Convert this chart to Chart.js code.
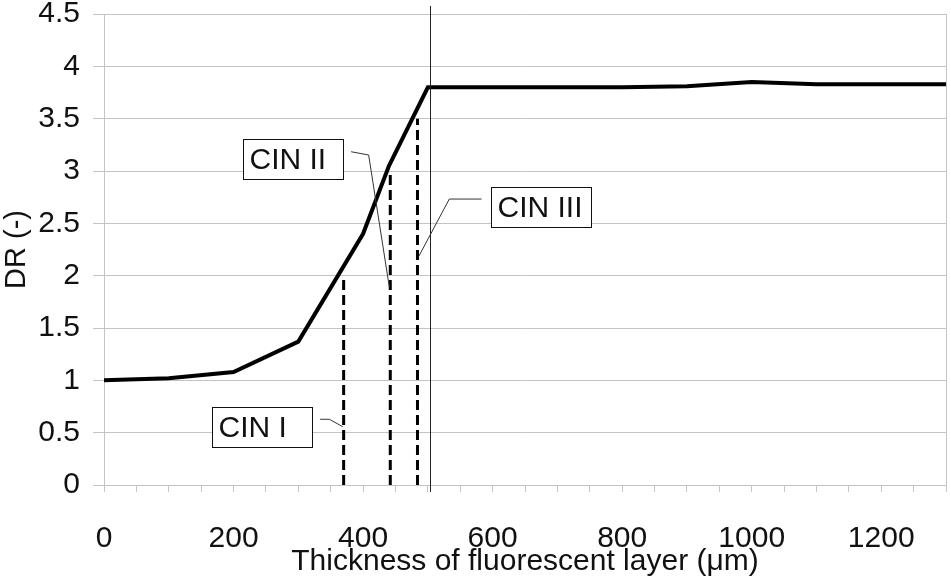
<!DOCTYPE html>
<html>
<head>
<meta charset="utf-8">
<script src="https://cdn.jsdelivr.net/npm/chart.js@4.4.1/dist/chart.umd.min.js"></script>
<style>
    html, body { margin: 0; padding: 0; background: #ffffff; }
    #wrap { width: 951px; height: 583px; position: relative; }
</style>
</head>
<body>
<div id="wrap"><canvas id="dr-chart"></canvas></div>
<script>
// thickness of fluorescent layer (um) and DR values
const thickness = [0, 100, 200, 300, 400, 440, 500, 600, 700, 800, 900, 1000, 1100, 1200, 1300];
const drValues = [1.0, 1.02, 1.08, 1.37, 2.4, 3.05, 3.8, 3.8, 3.8, 3.8, 3.81, 3.85, 3.83, 3.83, 3.83];

// CIN stage thresholds (dashed verticals): x position and height
const cinLabels = ['CIN I', 'CIN II', 'CIN III'];
const cinThickness = [370, 442, 484];
const cinTop = [1.97, 3.01, 3.5];

// solid vertical marker
const markerThickness = 504;

const xTickLabels = [0, 200, 400, 600, 800, 1000, 1200];
const yTickLabels = [0, 0.5, 1, 1.5, 2, 2.5, 3, 3.5, 4, 4.5];

// label boxes + leader lines, in data units
const cinCallouts = [
    { box: [166.5, 0.748], leader: [[333.7, 0.628], [348, 0.628], [368.5, 0.557]] },
    { box: [214, 3.306], leader: [[381.5, 3.184], [408.6, 3.153], [440.5, 1.892]] },
    { box: [597, 2.85], leader: [[582.9, 2.732], [533.1, 2.732], [485.7, 2.181]] }
];

const gridGray = '#c4c4c4';
const fontFamily = '"Liberation Sans", Arial, sans-serif';

const datasets = [{
    label: 'DR',
    data: thickness.map((t, i) => ({ x: t, y: drValues[i] })),
    borderColor: '#000000',
    borderWidth: 4,
    pointRadius: 0,
    tension: 0,
    order: 0
}];

cinThickness.forEach((t, i) => {
    datasets.push({
        label: cinLabels[i],
        data: [{ x: t, y: 0 }, { x: t, y: cinTop[i] }],
        borderColor: '#000000',
        borderWidth: 3,
        borderDash: [10, 5],
        pointRadius: 0,
        clip: false,
        order: 1
    });
});

const calloutPlugin = {
    id: 'callouts',
    afterDatasetsDraw(chart) {
        const ctx = chart.ctx;
        const xs = chart.scales.x;
        const ys = chart.scales.y;
        const area = chart.chartArea;

        ctx.save();
        // plot area right border
        ctx.strokeStyle = gridGray;
        ctx.lineWidth = 1;
        ctx.beginPath();
        ctx.moveTo(area.right + 0.5, area.top);
        ctx.lineTo(area.right + 0.5, area.bottom);
        ctx.stroke();

        // solid marker line
        const mx = Math.round(xs.getPixelForValue(markerThickness)) + 0.5;
        ctx.strokeStyle = '#222222';
        ctx.beginPath();
        ctx.moveTo(mx, area.top - 8);
        ctx.lineTo(mx, area.bottom + 7);
        ctx.stroke();

        // leader lines
        ctx.strokeStyle = '#333333';
        ctx.lineWidth = 1;
        cinCallouts.forEach(c => {
            ctx.beginPath();
            c.leader.forEach((p, j) => {
                const px = xs.getPixelForValue(p[0]);
                const py = ys.getPixelForValue(p[1]);
                if (j === 0) ctx.moveTo(px, py); else ctx.lineTo(px, py);
            });
            ctx.stroke();
        });

        // boxes
        ctx.font = '30px ' + fontFamily;
        ctx.textBaseline = 'middle';
        ctx.textAlign = 'left';
        cinCallouts.forEach((c, i) => {
            const bx = Math.round(xs.getPixelForValue(c.box[0])) + 0.5;
            const by = Math.round(ys.getPixelForValue(c.box[1])) + 0.5;
            const bw = 100, bh = 40;
            ctx.fillStyle = '#ffffff';
            ctx.fillRect(bx, by, bw, bh);
            ctx.strokeStyle = '#111111';
            ctx.strokeRect(bx, by, bw, bh);
            ctx.fillStyle = '#111111';
            ctx.fillText(cinLabels[i], bx + 6, by + bh / 2 + 1);
        });
        ctx.restore();
    }
};

const drChart = new Chart(document.getElementById('dr-chart').getContext('2d'), {
    type: 'line',
    data: { datasets: datasets },
    options: {
        responsive: true,
        maintainAspectRatio: false,
        animation: false,
        layout: { padding: { left: 0, right: 5, top: 14, bottom: 0 } },
        plugins: {
            legend: { display: false },
            tooltip: { enabled: false }
        },
        scales: {
            x: {
                type: 'linear',
                min: 0,
                max: 1300,
                afterFit: s => {
                    s.height = 98;
                    s.paddingLeft = 0;
                    s.paddingRight = 0;
                },
                border: { color: gridGray, width: 1 },
                grid: {
                    drawOnChartArea: false,
                    color: gridGray,
                    tickLength: 7
                },
                ticks: {
                    stepSize: 50,
                    autoSkip: false,
                    maxRotation: 0,
                    padding: 29,
                    color: '#111111',
                    font: { size: 30, family: fontFamily },
                    callback: v => xTickLabels.includes(v) ? String(v) : ''
                },
                title: {
                    display: true,
                    text: 'Thickness of fluorescent layer (\u03bcm)',
                    color: '#111111',
                    font: { size: 30, family: fontFamily, lineHeight: 1.2 },
                    padding: { top: 0, bottom: 3 }
                }
            },
            y: {
                min: 0,
                max: 4.5,
                afterFit: s => {
                    s.width = 104;
                    s.paddingTop = 0;
                    s.paddingBottom = 0;
                },
                border: { color: gridGray, width: 1 },
                grid: {
                    color: gridGray,
                    tickLength: 11
                },
                ticks: {
                    stepSize: 0.5,
                    padding: 13,
                    color: '#111111',
                    font: { size: 30, family: fontFamily },
                    callback: v => yTickLabels.includes(v) ? String(v) : ''
                },
                title: {
                    display: true,
                    text: 'DR (-)',
                    color: '#111111',
                    font: { size: 29, family: fontFamily, lineHeight: 1.2 },
                    padding: { top: 0, bottom: 0 }
                }
            }
        }
    },
    plugins: [calloutPlugin]
});
</script>
</body>
</html>
